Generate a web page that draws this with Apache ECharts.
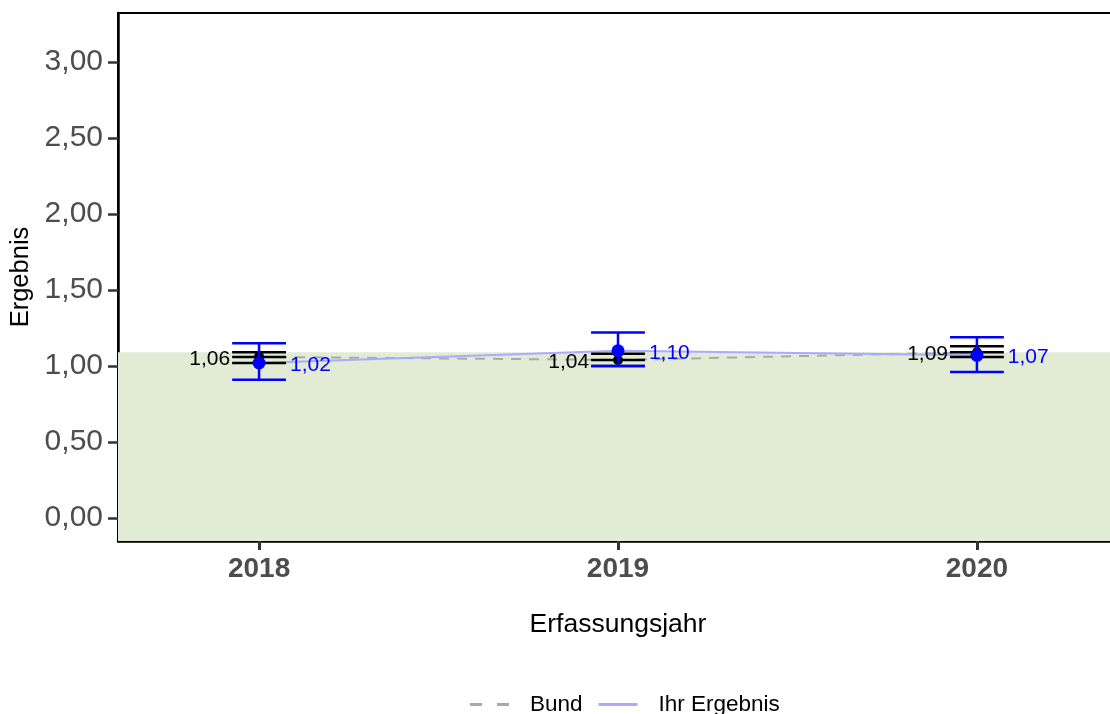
<!DOCTYPE html>
<html>
<head>
<meta charset="utf-8">
<script src="https://cdn.jsdelivr.net/npm/echarts@6/dist/echarts.min.js"></script>
<style>
  html, body { margin: 0; padding: 0; background: #ffffff; }
  #chart { width: 1110px; height: 714px; }
</style>
</head>
<body>
<div id="chart"></div>
<script>
// Erfassungsjahre
const years = [2018, 2019, 2020];

// Bundesweites Ergebnis mit Vertrauensbereich
const bundValues = [1.06, 1.04, 1.09];
const bundLower  = [1.02, 1.00, 1.06];
const bundUpper  = [1.09, 1.08, 1.13];

// Eigenes Ergebnis mit Vertrauensbereich
const ownValues = [1.02, 1.10, 1.07];
const ownLower  = [0.91, 1.00, 0.96];
const ownUpper  = [1.15, 1.22, 1.19];

// Referenzbereich (grün hinterlegt) bis zu diesem Wert
const referenceUpper = 1.09;

// Achsen
const yTicks = [0, 0.5, 1, 1.5, 2, 2.5, 3];
const yMin = -0.151, yMax = 3.322;
const xMin = 2017.607, xMax = 2020.393;

const fmt = v => v.toFixed(2).replace('.', ',');
const FONT = "'Liberation Sans', Arial, Helvetica, sans-serif";

// Fehlerbalken mit Punkt und Wertbeschriftung
function errorBarItem(opts) {
  return function (params, api) {
    const x = api.value(0), v = api.value(1), lo = api.value(2), hi = api.value(3);
    const pV = api.coord([x, v]);
    const pLo = api.coord([x, lo]);
    const pHi = api.coord([x, hi]);
    const hw = api.size([opts.halfWidth, 0])[0];
    const line = (x1, y1, x2, y2) => ({
      type: 'line',
      shape: { x1, y1, x2, y2 },
      style: { stroke: opts.color, lineWidth: opts.lineWidth }
    });
    const children = [];
    children.push(line(pHi[0], pHi[1], pLo[0], pLo[1]));
    children.push(line(pHi[0] - hw, pHi[1], pHi[0] + hw, pHi[1]));
    children.push(line(pLo[0] - hw, pLo[1], pLo[0] + hw, pLo[1]));
    if (opts.midLine) children.push(line(pV[0] - hw, pV[1], pV[0] + hw, pV[1]));
    children.push({
      type: 'circle',
      shape: { cx: pV[0], cy: pV[1], r: opts.radius },
      style: { fill: opts.color }
    });
    const onLeft = opts.labelSide === 'left';
    children.push({
      type: 'text',
      style: {
        text: fmt(v),
        x: onLeft ? pV[0] - hw - 2 : pV[0] + hw + 4,
        y: pV[1] + 2,
        align: onLeft ? 'right' : 'left',
        verticalAlign: 'middle',
        fill: opts.color,
        font: '21px ' + FONT
      }
    });
    return { type: 'group', children };
  };
}

const bundData = years.map((y, i) => [y, bundValues[i], bundLower[i], bundUpper[i]]);
const ownData = years.map((y, i) => [y, ownValues[i], ownLower[i], ownUpper[i]]);

const chart = echarts.init(document.getElementById('chart'), null, { renderer: 'canvas' });

chart.setOption({
  animation: false,
  backgroundColor: '#ffffff',
  grid: {
    left: 118, top: 13, width: 1000, bottom: 173,
    outerBoundsMode: 'none',
    containLabel: false,
    show: true, borderColor: '#000000', borderWidth: 2, backgroundColor: 'transparent'
  },
  legend: {
    left: 465, top: 688,
    itemWidth: 39, itemHeight: 3, itemGap: 16,
    textStyle: { fontFamily: FONT, fontSize: 22.5, color: '#000000', padding: [0, 0, 0, 16] },
    data: [
      { name: 'Bund', icon: 'path://M0,0h12v3h-12z M27,0h12v3h-12z' },
      { name: 'Ihr Ergebnis', icon: 'path://M0,0h39v3h-39z' }
    ]
  },
  xAxis: {
    type: 'value', min: xMin, max: xMax,
    name: 'Erfassungsjahr', nameLocation: 'middle', nameGap: 70,
    nameTextStyle: { fontFamily: FONT, fontSize: 26.5, color: '#000000' },
    axisLine: { show: true, onZero: false, lineStyle: { color: '#000000', width: 2.5 } },
    axisTick: { show: true, length: 9, customValues: years, lineStyle: { color: '#333333', width: 3 } },
    axisLabel: {
      customValues: years, margin: 14,
      fontFamily: FONT, fontSize: 28, fontWeight: 'bold', color: '#4d4d4d',
      formatter: v => String(v)
    },
    splitLine: { show: false }
  },
  yAxis: {
    type: 'value', min: yMin, max: yMax,
    name: 'Ergebnis', nameLocation: 'middle', nameGap: 84, nameRotate: 90,
    nameTextStyle: { fontFamily: FONT, fontSize: 25.5, color: '#000000' },
    axisLine: { show: true, onZero: false, lineStyle: { color: '#000000', width: 2.5 } },
    axisTick: { show: true, length: 10, customValues: yTicks, lineStyle: { color: '#333333', width: 2.5 } },
    axisLabel: {
      customValues: yTicks, margin: 15,
      fontFamily: FONT, fontSize: 30, color: '#4d4d4d',
      formatter: v => fmt(v)
    },
    splitLine: { show: false }
  },
  series: [
    {
      name: 'Referenzbereich',
      type: 'line',
      data: [],
      silent: true,
      markArea: {
        silent: true,
        itemStyle: { color: '#e2ebd4' },
        data: [[{ yAxis: yMin }, { yAxis: referenceUpper }]]
      }
    },
    {
      name: 'Bund',
      type: 'line',
      data: years.map((y, i) => [y, bundValues[i]]),
      color: '#aaaaaa',
      showSymbol: false,
      lineStyle: { color: '#aaaaaa', width: 2, type: [10, 8] },
      z: 2
    },
    {
      name: 'Ihr Ergebnis',
      type: 'line',
      data: years.map((y, i) => [y, ownValues[i]]),
      color: '#aaaaff',
      showSymbol: false,
      lineStyle: { color: '#aaaaff', width: 2 },
      z: 3
    },
    {
      name: 'Bund KI',
      type: 'custom',
      data: bundData,
      renderItem: errorBarItem({ color: '#000000', halfWidth: 0.075, lineWidth: 2.5, radius: 5, midLine: true, labelSide: 'left' }),
      z: 4
    },
    {
      name: 'Ihr KI',
      type: 'custom',
      data: ownData,
      renderItem: errorBarItem({ color: '#0000ff', halfWidth: 0.075, lineWidth: 2.5, radius: 6.5, midLine: false, labelSide: 'right' }),
      z: 5
    }
  ]
});
</script>
</body>
</html>
